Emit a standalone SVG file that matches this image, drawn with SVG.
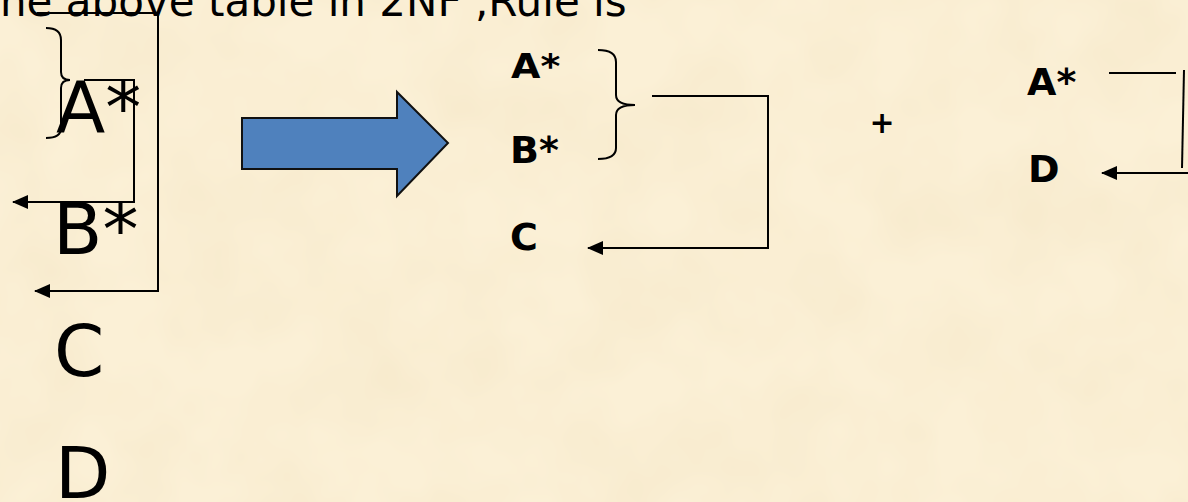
<svg xmlns="http://www.w3.org/2000/svg" width="1188" height="502" viewBox="0 0 1188 502">
  <style>
    .big { font-family: "DejaVu Sans", "Liberation Sans", sans-serif; font-size: 72px; fill: #000; }
    .bold { font-family: "DejaVu Sans", "Liberation Sans", sans-serif; font-size: 38px; font-weight: bold; fill: #000; }
    .title { font-family: "DejaVu Sans", "Liberation Sans", sans-serif; font-size: 42px; fill: #000; }
    .ln { fill: none; stroke: #000; stroke-width: 2; }
    .arr { marker-end: url(#ah); }
  </style>
  <defs>
    <marker id="ah" markerUnits="userSpaceOnUse" markerWidth="16" markerHeight="14" refX="15" refY="7" orient="auto">
      <path d="M0,0 L16,7 L0,14 Z" fill="#000"/>
    </marker>
    <filter id="tex" x="0" y="0" width="100%" height="100%">
      <feTurbulence type="fractalNoise" baseFrequency="0.012" numOctaves="3" seed="7"/>
      <feColorMatrix type="matrix" values="0 0 0 0 0.85  0 0 0 0 0.70  0 0 0 0 0.45  0 0 0 0.4 -0.12"/>
    </filter>
  </defs>

  <rect width="1188" height="502" fill="#FBF0D6"/>
  <rect width="1188" height="502" filter="url(#tex)"/>

  <g id="title">
    <text class="title" x="0" y="16">ne above table in 2NF ,Rule is</text>
  </g>

  <g id="left-A"><text class="big" x="56" y="132">A*</text></g>
  <g id="left-B"><text class="big" x="53" y="254">B*</text></g>
  <g id="left-C"><text class="big" x="54" y="376">C</text></g>
  <g id="left-D"><text class="big" x="55" y="498">D</text></g>

  <g id="big-arrow">
    <polygon points="242,118 397,118 397,92 448,143 397,196 397,169 242,169" fill="#4F81BD" stroke="#111" stroke-width="2" stroke-linejoin="miter"/>
  </g>

  <g id="mid-A"><text class="bold" transform="translate(511,78) scale(1,0.88)">A*</text></g>
  <g id="mid-B"><text class="bold" x="510" y="163">B*</text></g>
  <g id="mid-C"><text class="bold" x="510" y="250">C</text></g>

  <g id="plus"><text class="bold" x="882" y="133" text-anchor="middle" style="font-size:30px">+</text></g>

  <g id="right-A"><text class="bold" x="1027" y="95">A*</text></g>
  <g id="right-D"><text class="bold" x="1028" y="182">D</text></g>

  <g id="connectors">
    <path class="ln" d="M46,28 Q61,28 61,40 L61,72 Q61,80 70,80 Q61,80 61,88 L61,128 Q61,138 46,138"/>
    <path class="ln arr" d="M84,80 H134 V202 H13"/>
    <path class="ln arr" d="M37,13 H158 V291 H35"/>
    <path class="ln" d="M598,50 Q616,50 616,62 L616,95 Q616,105 635,105 Q616,105 616,115 L616,148 Q616,159 598,159"/>
    <path class="ln arr" d="M652,96 H768 V248 H588"/>
    <path class="ln" d="M1109,73 H1176"/>
    <path class="ln" d="M1184,70 L1182,168"/>
    <path class="ln arr" d="M1190,173 H1102"/>
  </g>
</svg>
